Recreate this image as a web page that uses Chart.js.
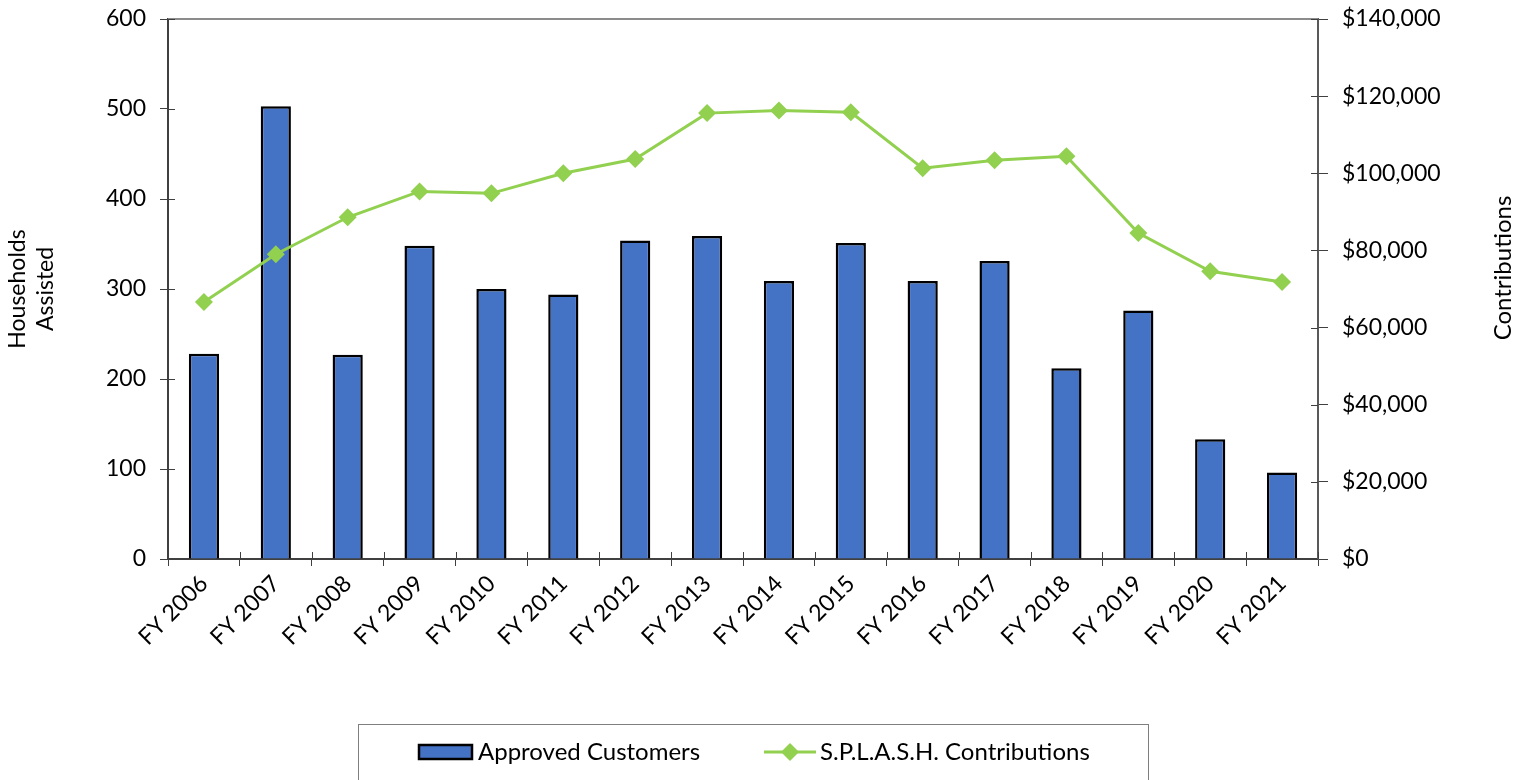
<!DOCTYPE html>
<html>
<head>
<meta charset="utf-8">
<script src="https://cdn.jsdelivr.net/npm/chart.js@4.4.1/dist/chart.umd.min.js"></script>
<style>
  html, body { margin: 0; padding: 0; background: #fff; }
  #wrap { width: 1520px; height: 780px; position: relative; }
</style>
</head>
<body>
<div id="wrap"><canvas id="chart" width="1520" height="780"></canvas></div>
<script>
// valores
var years = ["FY 2006", "FY 2007", "FY 2008", "FY 2009", "FY 2010", "FY 2011", "FY 2012", "FY 2013",
             "FY 2014", "FY 2015", "FY 2016", "FY 2017", "FY 2018", "FY 2019", "FY 2020", "FY 2021"];
var approvedCustomers = [228, 503, 227, 348, 300, 294, 354, 359, 309, 351, 309, 331, 212, 276, 133, 96];
var splashContributions = [66600, 79000, 88600, 95300, 94800, 100000, 103700, 115600,
                           116300, 115800, 101300, 103400, 104400, 84500, 74600, 71800];

var fontFamily = "Lato, 'Open Sans', sans-serif";
var barColor = "#4472C4";
var lineColor = "#92D050";
var axisColor = "#404040";

// Linha de cima, tracos internos, titulo da direita e legenda
var extrasPlugin = {
  id: "extras",
  afterDraw: function(chart) {
    var ctx = chart.ctx;
    var area = chart.chartArea;
    ctx.save();

    // borda de cima
    ctx.strokeStyle = "#8c8c8c";
    ctx.lineWidth = 2;
    ctx.beginPath();
    ctx.moveTo(area.left, area.top);
    ctx.lineTo(area.right, area.top);
    ctx.stroke();

    // parte interna dos tracos (cruzando os eixos)
    ctx.strokeStyle = axisColor;
    ctx.lineWidth = 1;
    ctx.beginPath();
    chart.scales.y.ticks.forEach(function(t) {
      var py = Math.round(chart.scales.y.getPixelForValue(t.value)) + 0.5;
      ctx.moveTo(area.left, py);
      ctx.lineTo(area.left + 7, py);
    });
    chart.scales.y1.ticks.forEach(function(t) {
      var py = Math.round(chart.scales.y1.getPixelForValue(t.value)) + 0.5;
      ctx.moveTo(area.right, py);
      ctx.lineTo(area.right - 7, py);
    });
    var step = (area.right - area.left) / years.length;
    for (var i = 0; i <= years.length; i++) {
      var px = Math.round(area.left + i * step) + 0.5;
      ctx.moveTo(px, area.bottom);
      ctx.lineTo(px, area.bottom - 7);
    }
    ctx.stroke();

    // titulo do eixo direito (de baixo para cima)
    ctx.fillStyle = "#000";
    ctx.font = "24px " + fontFamily;
    ctx.textAlign = "center";
    ctx.textBaseline = "middle";
    ctx.translate(1503, 268);
    ctx.rotate(-Math.PI / 2);
    ctx.fillText("Contributions", 0, 0);
    ctx.setTransform(1, 0, 0, 1, 0, 0);

    // legenda
    ctx.strokeStyle = "#7f7f7f";
    ctx.lineWidth = 1;
    ctx.strokeRect(358.5, 724.5, 790, 60);

    var ds = chart.data.datasets;
    ctx.font = "24px " + fontFamily;
    ctx.textAlign = "left";
    ctx.textBaseline = "middle";
    var y = 752;

    ctx.fillStyle = barColor;
    ctx.fillRect(419, 745, 53, 14);
    ctx.strokeStyle = "#000";
    ctx.lineWidth = 2.5;
    ctx.strokeRect(419, 745, 53, 14);
    ctx.fillStyle = "#000";
    ctx.fillText(ds[0].label, 478, y);

    ctx.strokeStyle = lineColor;
    ctx.lineWidth = 3;
    ctx.beginPath();
    ctx.moveTo(764, y);
    ctx.lineTo(816, y);
    ctx.stroke();
    ctx.fillStyle = lineColor;
    ctx.beginPath();
    ctx.moveTo(790, y - 9);
    ctx.lineTo(799, y);
    ctx.lineTo(790, y + 9);
    ctx.lineTo(781, y);
    ctx.closePath();
    ctx.fill();
    ctx.fillStyle = "#000";
    ctx.fillText(ds[1].label, 820, y);

    ctx.restore();
  }
};

// zera o padding automatico dos eixos verticais
function fixVertical(width) {
  return function(scale) {
    scale.width = width;
    scale.paddingTop = 0;
    scale.paddingBottom = 0;
  };
}

var ctx = document.getElementById("chart").getContext("2d");
var chart = new Chart(ctx, {
  data: {
    labels: years,
    datasets: [
      {
        type: "bar",
        label: "Approved Customers",
        data: approvedCustomers,
        backgroundColor: barColor,
        borderColor: "#000",
        borderWidth: 2.5,
        barPercentage: 0.42,
        categoryPercentage: 1,
        yAxisID: "y",
        order: 2
      },
      {
        type: "line",
        label: "S.P.L.A.S.H. Contributions",
        data: splashContributions,
        borderColor: lineColor,
        backgroundColor: lineColor,
        borderWidth: 3,
        pointStyle: "rectRot",
        pointRadius: 9,
        pointHoverRadius: 9,
        pointBorderWidth: 0,
        tension: 0,
        yAxisID: "y1",
        order: 1
      }
    ]
  },
  options: {
    responsive: false,
    animation: false,
    layout: { padding: { top: 19, left: 0, right: 0, bottom: 0 } },
    plugins: {
      legend: { display: false },
      tooltip: { enabled: false }
    },
    scales: {
      x: {
        grid: { display: true, drawOnChartArea: false, drawTicks: true, tickLength: 7, color: axisColor, offset: true },
        border: { display: true, color: axisColor, width: 2 },
        ticks: { color: "#000", font: { family: fontFamily, size: 23 }, minRotation: 45, maxRotation: 45, padding: 4 },
        afterFit: function(scale) {
          scale.height = 221;
          scale.paddingLeft = 0;
          scale.paddingRight = 0;
        }
      },
      y: {
        position: "left",
        min: 0,
        max: 600,
        grid: { display: true, drawOnChartArea: false, tickLength: 8, color: axisColor },
        border: { display: true, color: axisColor, width: 2 },
        ticks: { stepSize: 100, color: "#000", font: { family: fontFamily, size: 23 }, padding: 14 },
        title: { display: true, text: ["Households", "Assisted"], color: "#000", font: { family: fontFamily, size: 23 }, padding: { top: 4, bottom: 0 } },
        afterFit: fixVertical(168)
      },
      y1: {
        position: "right",
        min: 0,
        max: 140000,
        grid: { display: true, drawOnChartArea: false, tickLength: 10, color: axisColor },
        border: { display: true, color: "#595959", width: 2 },
        ticks: {
          stepSize: 20000,
          color: "#000",
          font: { family: fontFamily, size: 23 },
          padding: 14,
          callback: function(value) { return "$" + value.toLocaleString("en-US"); }
        },
        afterFit: fixVertical(202)
      }
    }
  },
  plugins: [extrasPlugin]
});
</script>
</body>
</html>
